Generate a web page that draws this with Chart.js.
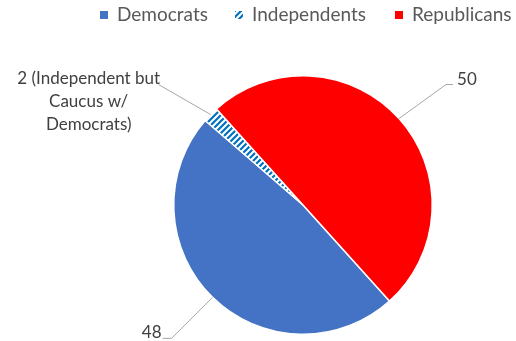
<!doctype html>
<html lang="en">
<head>
	<meta charset="utf-8">
	<title>Senate</title>
	<style>
		html, body { margin: 0; padding: 0; background: #fff; }
		#wrap { width: 516px; height: 341px; }
	</style>
</head>
<body>
	<script src="https://cdn.jsdelivr.net/npm/chart.js@4/dist/chart.umd.min.js"></script>
	<div id="wrap"><canvas id="myChart" width="516" height="341"></canvas></div>

	<script>
		var categories = ["Democrats", "Independents", "Republicans"];
		var seats = [48, 2, 50];
		var sliceLabels = ["48", "2 (Independent but\nCaucus w/\nDemocrats)", "50"];

		var FONT = 'Lato, "Open Sans", sans-serif';

		// little striped tile for the Independents slice
		function stripes() {
			var c = document.createElement('canvas');
			c.width = 6; c.height = 6;
			var g = c.getContext('2d');
			g.fillStyle = '#ffffff';
			g.fillRect(0, 0, 6, 6);
			g.strokeStyle = '#0070C0';
			g.lineWidth = 2.2;
			g.beginPath();
			g.moveTo(-1, 7); g.lineTo(7, -1);
			g.moveTo(-4, 4); g.lineTo(4, -4);
			g.moveTo(2, 10); g.lineTo(10, 2);
			g.stroke();
			return g.createPattern(c, 'repeat');
		}

		var colors = ["#4472C4", stripes(), "#FF0000"];

		// label offset from the slice edge point, and the little elbow
		var labelPlace = [
			{ dx: -41, dy: 41, elbow: -9, align: 'right' },
			{ dx: -52, dy: -30, elbow: 0, align: 'center' },
			{ dx: 47, dy: -34, elbow: 7, align: 'left' }
		];

		// legend drawn by hand so it sits in one row at the top right
		var legendX = [100, 235, 395];

		var leaderLabels = {
			id: 'leaderLabels',
			afterDatasetsDraw: function(chart) {
				var ctx = chart.ctx;
				var meta = chart.getDatasetMeta(0);
				var ds = chart.data.datasets[0];
				ctx.save();

				// legend
				ctx.font = '19px ' + FONT;
				ctx.textBaseline = 'middle';
				ctx.textAlign = 'left';
				chart.data.labels.forEach(function(lab, i) {
					ctx.fillStyle = ds.backgroundColor[i];
					ctx.fillRect(legendX[i], 11, 8, 8);
					ctx.fillStyle = '#595959';
					ctx.fillText(lab, legendX[i] + 17, 15);
				});

				// data labels with leader lines
				ctx.font = '17px ' + FONT;
				ctx.fillStyle = '#404040';
				ctx.strokeStyle = '#a6a6a6';
				ctx.lineWidth = 1;
				meta.data.forEach(function(arc, i) {
					var p = arc.getProps(['x', 'y', 'startAngle', 'endAngle', 'outerRadius'], true);
					var mid = (p.startAngle + p.endAngle) / 2;
					var sx = p.x + Math.cos(mid) * p.outerRadius;
					var sy = p.y + Math.sin(mid) * p.outerRadius;
					var pl = labelPlace[i];
					var ex = sx + pl.dx, ey = sy + pl.dy;
					ctx.beginPath();
					ctx.moveTo(sx, sy);
					ctx.lineTo(ex, ey);
					ctx.lineTo(ex + pl.elbow, ey);
					ctx.stroke();
					var lines = sliceLabels[i].split('\n');
					if (pl.align === 'left') {
						ctx.textAlign = 'left';
						ctx.fillText(lines[0], ex + pl.elbow + 4, ey - 5);
					} else if (pl.align === 'right') {
						ctx.textAlign = 'right';
						ctx.fillText(lines[0], ex + pl.elbow - 1, ey - 6);
					} else {
						ctx.textAlign = 'center';
						for (var k = 0; k < lines.length; k++) {
							ctx.fillText(lines[k], ex - 70, ey - 6 + k * 23);
						}
					}
				});
				ctx.restore();
			}
		};

		var ctx = document.getElementById("myChart");
		var myChart = new Chart(ctx, {
			type: 'pie',
			data: {
				labels: categories,
				datasets: [{
					data: seats,
					backgroundColor: colors,
					borderColor: '#ffffff',
					borderWidth: 1.5
				}]
			},
			options: {
				responsive: false,
				animation: false,
				rotation: 138,
				layout: { padding: { left: 120, right: 30, top: 75, bottom: 6 } },
				plugins: {
					legend: { display: false },
					tooltip: { enabled: false }
				}
			},
			plugins: [leaderLabels]
		});
	</script>
</body>
</html>
